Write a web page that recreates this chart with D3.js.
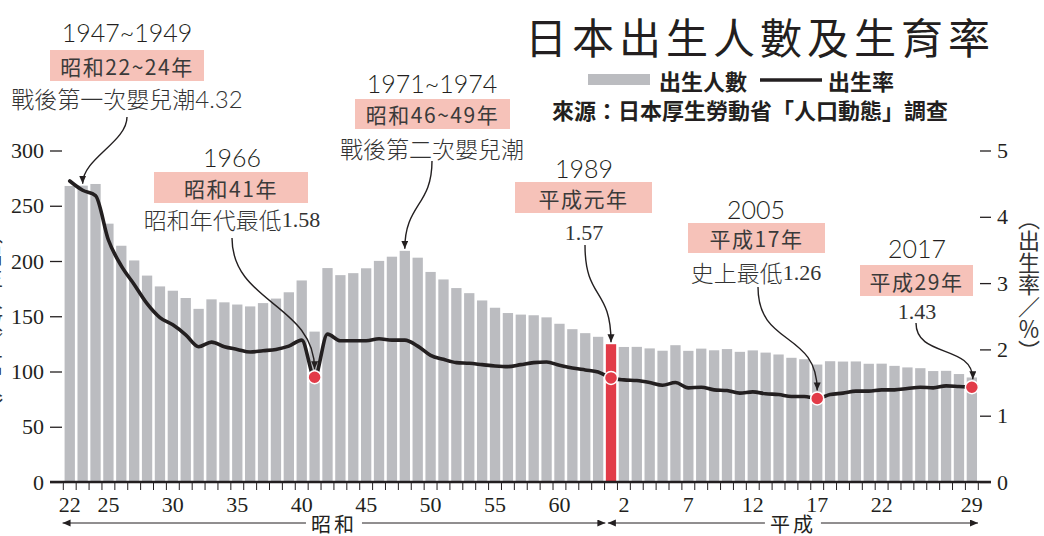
<!DOCTYPE html>
<html>
<head>
<meta charset="utf-8">
<script src="https://cdn.jsdelivr.net/npm/d3@7"></script>
<style>
  html, body { margin: 0; padding: 0; background: #fff; }
  svg { display: block; }
</style>
</head>
<body>
<svg id="chart" width="1044" height="536"></svg>
<script>
// ---------------- DATA ----------------
const years = d3.range(1947, 2018);
// 出生人數（萬人）
const births = [
  267.9, 268.2, 269.7, 233.8, 213.8, 200.5, 186.8, 177.0, 173.1, 166.5,
  156.7, 165.3, 162.6, 160.6, 158.9, 161.9, 166.0, 171.7, 182.4, 136.1,
  193.6, 187.2, 189.0, 193.4, 200.1, 203.9, 209.2, 203.0, 190.1, 183.3,
  175.5, 170.9, 164.3, 157.7, 152.9, 151.5, 150.9, 149.0, 143.2, 138.3,
  134.7, 131.4, 124.7, 122.2, 122.3, 120.9, 118.8, 123.8, 118.7, 120.7,
  119.2, 120.3, 117.8, 119.1, 117.1, 115.4, 112.4, 111.1, 106.3, 109.3,
  109.0, 109.1, 107.0, 107.1, 105.1, 103.7, 103.0, 100.4, 100.6, 97.7,
  94.6
];
// 出生率（合計特殊出生率）
const fertility = [
  4.54, 4.40, 4.32, 3.65, 3.26, 2.98, 2.69, 2.48, 2.37, 2.22,
  2.04, 2.11, 2.04, 2.00, 1.96, 1.98, 2.00, 2.05, 2.14, 1.58,
  2.23, 2.13, 2.13, 2.13, 2.16, 2.14, 2.14, 2.05, 1.91, 1.85,
  1.80, 1.79, 1.77, 1.75, 1.74, 1.77, 1.80, 1.81, 1.76, 1.72,
  1.69, 1.66, 1.57, 1.54, 1.53, 1.50, 1.46, 1.50, 1.42, 1.43,
  1.39, 1.38, 1.34, 1.36, 1.33, 1.32, 1.29, 1.29, 1.26, 1.32,
  1.34, 1.37, 1.37, 1.39, 1.39, 1.41, 1.43, 1.42, 1.45, 1.44,
  1.43
];
const highlightYear = 1989;
const dotYears = [1966, 1989, 2005, 2017];
const showaTickYears = [1947, 1950, 1955, 1960, 1965, 1970, 1975, 1980, 1985];
const heiseiTickYears = [1990, 1995, 2000, 2005, 2010, 2017];
const leftTicks = [0, 50, 100, 150, 200, 250, 300];
const rightTicks = [0, 1, 2, 3, 4, 5];
const eraLabel = y => (y <= 1988 ? y - 1925 : y - 1988);

const title = "日本出生人數及生育率";
const legendBars = "出生人數";
const legendLine = "出生率";
const sourceText = "來源：日本厚生勞動省「人口動態」調查";

// annotations: year shown, era box text, description text, target year, target kind
const annotations = [
  { head: "1947~1949", box: "昭和22~24年", desc: "戰後第一次嬰兒潮", num: "4.32", numSerif: false, year: 1948, target: "bar" },
  { head: "1971~1974", box: "昭和46~49年", desc: "戰後第二次嬰兒潮", num: "", year: 1973, target: "bar" },
  { head: "1966", box: "昭和41年", desc: "昭和年代最低", num: "1.58", numSerif: true, year: 1966, target: "dot" },
  { head: "1989", box: "平成元年", desc: "", num: "1.57", numSerif: true, year: 1989, target: "bar" },
  { head: "2005", box: "平成17年", desc: "史上最低", num: "1.26", numSerif: true, year: 2005, target: "dot" },
  { head: "2017", box: "平成29年", desc: "", num: "1.43", numSerif: true, year: 2017, target: "dot" }
];
// layout for annotation blocks
const annLayout = [
  { cx: 127, headY: 42, bx0: 50, bx1: 204, by0: 50, by1: 81, descY: 97.5, ax: 127, ay: 117, k: 25 },
  { cx: 432, headY: 93, bx0: 355, bx1: 510, by0: 99, by1: 129, descY: 147.5, ax: 432, ay: 161, k: 45 },
  { cx: 232, headY: 167, bx0: 154, bx1: 308, by0: 172, by1: 203, descY: 219, ax: 232, ay: 238, k: 65 },
  { cx: 584, headY: 178, bx0: 515, bx1: 652, by0: 182, by1: 213, descY: 232, ax: 585, ay: 245, k: 55 },
  { cx: 756, headY: 219, bx0: 688, bx1: 825, by0: 223, by1: 253, descY: 272, ax: 758, ay: 287, k: 60 },
  { cx: 917, headY: 258, bx0: 860, bx1: 973, by0: 265, by1: 296, descY: 311, ax: 916, ay: 323, k: 35 }
];

// ---------------- STYLE ----------------
const CJK = "'Noto Sans CJK TC','Noto Sans CJK SC','Noto Sans CJK JP',sans-serif";
const SERIF = "'Liberation Serif','DejaVu Serif',serif";
const SANS = "Lato,'Open Sans','Noto Sans',sans-serif";
const INK = "#231f20";
const BAR = "#bbbcc0";
const RED = "#e23b48";
const PINK = "#f6c2b9";

const svg = d3.select("#chart");

const x = d3.scaleBand().domain(years).range([63.3, 978.3]).paddingInner(0.2).paddingOuter(0.1);
const yL = d3.scaleLinear().domain([0, 300]).range([482, 150.5]);
const yR = d3.scaleLinear().domain([0, 5]).range([482, 150.5]);
const cx = yr => x(yr) + x.bandwidth() / 2;
const idx = yr => years.indexOf(yr);

function fitWidth(sel, target) {
  const node = sel.node();
  const n = sel.text().length;
  const w = node.getComputedTextLength();
  sel.attr("letter-spacing", Math.max(-2, (target - w) / (n - 1)));
}

// marker
svg.append("defs").append("marker")
  .attr("id", "arrow").attr("markerUnits", "userSpaceOnUse")
  .attr("markerWidth", 9).attr("markerHeight", 8)
  .attr("refX", 8).attr("refY", 3.5).attr("orient", "auto")
  .append("path").attr("d", "M0,0 L8,3.5 L0,7 Z").attr("fill", INK);

// bars
svg.append("g").selectAll("rect").data(years).join("rect")
  .attr("x", d => x(d))
  .attr("width", x.bandwidth())
  .attr("y", (d, i) => yL(births[i]))
  .attr("height", (d, i) => yL(0) - yL(births[i]))
  .attr("fill", d => d === highlightYear ? RED : BAR);

// left axis
const gL = svg.append("g").attr("transform", "translate(62,0)")
  .call(d3.axisLeft(yL).tickValues(leftTicks).tickSize(12).tickPadding(6));
gL.select(".domain").remove();
gL.selectAll(".tick line").attr("stroke", INK).attr("stroke-width", 1.3);
gL.selectAll(".tick text").attr("font-family", SERIF).attr("font-size", 22).attr("fill", INK);

// right axis
const gR = svg.append("g").attr("transform", "translate(980,0)")
  .call(d3.axisRight(yR).tickValues(rightTicks).tickFormat(d3.format("d")).tickSize(11).tickPadding(6));
gR.select(".domain").remove();
gR.selectAll(".tick line").attr("stroke", INK).attr("stroke-width", 1.3);
gR.selectAll(".tick text").attr("font-family", SERIF).attr("font-size", 22).attr("fill", INK);

// x ticks at band boundaries
const boundaries = years.map(d => x(d) - x.step() * x.paddingInner() / 2)
  .concat([x(years[years.length - 1]) + x.bandwidth() + x.step() * x.paddingInner() / 2]);
svg.append("g").selectAll("line").data(boundaries).join("line")
  .attr("x1", d => d).attr("x2", d => d)
  .attr("y1", yL(0)).attr("y2", yL(0) + 8)
  .attr("stroke", INK).attr("stroke-width", 1);

// x labels
const gX = svg.append("g").attr("transform", `translate(0,${yL(0)})`)
  .call(d3.axisBottom(x).tickValues(showaTickYears.concat(heiseiTickYears))
    .tickSize(0).tickPadding(14).tickFormat(eraLabel));
gX.select(".domain").remove();
gX.selectAll(".tick text").attr("font-family", SERIF).attr("font-size", 22).attr("fill", INK);

// baseline
svg.append("line").attr("x1", 50).attr("x2", 991).attr("y1", yL(0)).attr("y2", yL(0))
  .attr("stroke", INK).attr("stroke-width", 2.6);

// era arrows
const showaStart = x(1947) - 2, showaEnd = x(1989) - 0.5;
const heiseiStart = x(1989) + 2, heiseiEnd = x(2017) + x.bandwidth() + 1;
const eraY = 523;
function eraArrow(x0, x1, label) {
  const mid = (x0 + x1) / 2;
  const half = 28;
  const g = svg.append("g");
  g.append("line").attr("x1", mid - half).attr("x2", x0).attr("y1", eraY).attr("y2", eraY)
    .attr("stroke", INK).attr("stroke-width", 1).attr("marker-end", "url(#arrow)");
  g.append("line").attr("x1", mid + half).attr("x2", x1).attr("y1", eraY).attr("y2", eraY)
    .attr("stroke", INK).attr("stroke-width", 1).attr("marker-end", "url(#arrow)");
  g.append("text").attr("x", mid).attr("y", eraY).attr("text-anchor", "middle")
    .attr("dominant-baseline", "central").attr("font-family", CJK).attr("font-size", 20)
    .attr("letter-spacing", 3).attr("fill", INK).text(label);
}
eraArrow(showaStart, showaEnd, "昭和");
eraArrow(heiseiStart, heiseiEnd, "平成");

// fertility line
svg.append("path")
  .datum(years)
  .attr("d", d3.line().x(d => cx(d)).y((d, i) => yR(fertility[i])).curve(d3.curveMonotoneX))
  .attr("fill", "none").attr("stroke", INK).attr("stroke-width", 3.6)
  .attr("stroke-linejoin", "round").attr("stroke-linecap", "round");

// dots
svg.append("g").selectAll("circle").data(dotYears).join("circle")
  .attr("cx", d => cx(d)).attr("cy", d => yR(fertility[idx(d)]))
  .attr("r", 6.5).attr("fill", RED).attr("stroke", "#fff").attr("stroke-width", 1.5);

// annotations
annotations.forEach((a, i) => {
  const L = annLayout[i];
  const g = svg.append("g");
  g.append("text").attr("x", L.cx).attr("y", L.headY).attr("text-anchor", "middle")
    .attr("font-family", SANS).attr("font-weight", 300).attr("font-size", 25)
    .attr("fill", INK).text(a.head);
  g.append("rect").attr("x", L.bx0).attr("y", L.by0)
    .attr("width", L.bx1 - L.bx0).attr("height", L.by1 - L.by0).attr("fill", PINK);
  g.append("text").attr("x", (L.bx0 + L.bx1) / 2).attr("y", (L.by0 + L.by1) / 2)
    .attr("text-anchor", "middle").attr("dominant-baseline", "central")
    .attr("font-family", CJK).attr("font-size", 21).attr("letter-spacing", 1.5)
    .attr("fill", "#3a3a3a").text(a.box);
  const t = g.append("text").attr("x", L.cx).attr("y", L.descY).attr("text-anchor", "middle")
    .attr("dominant-baseline", "central").attr("fill", "#333");
  if (a.desc) t.append("tspan").attr("font-family", CJK).attr("font-size", 23).attr("font-weight", 300).text(a.desc);
  if (a.num) t.append("tspan")
    .attr("font-family", a.numSerif ? SERIF : SANS).attr("font-weight", a.numSerif ? 400 : 300)
    .attr("font-size", a.numSerif ? 22 : 24).text(a.num);
  const j = idx(a.year);
  let ex, ey;
  if (a.target === "bar") {
    ex = cx(a.year);
    ey = yL(births[j]) - 2;
  } else {
    ex = cx(a.year);
    ey = yR(fertility[j]) - 8;
    if (a.year === 2017) ex = cx(a.year) + 1;
  }
  const sx = L.ax, sy = L.ay, k = L.k;
  g.append("path")
    .attr("d", `M${sx},${sy} C${sx},${sy + k} ${ex},${ey - k} ${ex},${ey}`)
    .attr("fill", "none").attr("stroke", INK).attr("stroke-width", 1.4)
    .attr("marker-end", "url(#arrow)");
});

// title
const titleSel = svg.append("text").attr("x", 525).attr("y", 35).attr("dominant-baseline", "central")
  .attr("font-family", CJK).attr("font-size", 42).attr("fill", INK).text(title);
fitWidth(titleSel, 465);

// legend
svg.append("rect").attr("x", 588).attr("y", 74).attr("width", 62).attr("height", 11).attr("fill", BAR);
svg.append("text").attr("x", 659).attr("y", 80).attr("dominant-baseline", "central")
  .attr("font-family", CJK).attr("font-weight", 700).attr("font-size", 22).attr("fill", INK).text(legendBars);
svg.append("line").attr("x1", 760).attr("x2", 822).attr("y1", 80).attr("y2", 80)
  .attr("stroke", INK).attr("stroke-width", 3.6);
svg.append("text").attr("x", 828).attr("y", 80).attr("dominant-baseline", "central")
  .attr("font-family", CJK).attr("font-weight", 700).attr("font-size", 22).attr("fill", INK).text(legendLine);
svg.append("text").attr("x", 552).attr("y", 109).attr("dominant-baseline", "central")
  .attr("font-family", CJK).attr("font-weight", 700).attr("font-size", 22).attr("fill", INK).text(sourceText);

// axis titles (vertical)
svg.append("text").attr("x", 1029).attr("y", 208)
  .attr("writing-mode", "vertical-rl").attr("font-family", CJK).attr("font-size", 22)
  .attr("fill", "#333").text("（出生率／％）");
svg.append("text").attr("x", -8).attr("y", 222)
  .attr("writing-mode", "vertical-rl").attr("font-family", CJK).attr("font-size", 22)
  .attr("fill", "#333").text("（出生人數／萬人）");
</script>
</body>
</html>
